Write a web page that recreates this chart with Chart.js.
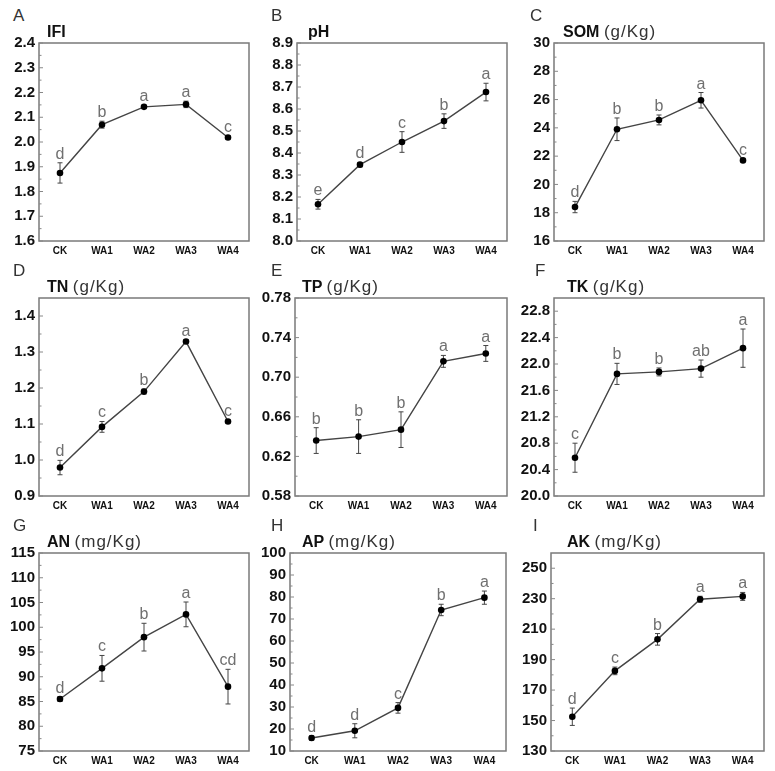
<!DOCTYPE html>
<html>
<head>
<meta charset="utf-8">
<script src="https://cdn.jsdelivr.net/npm/chart.js@4.4.0/dist/chart.umd.min.js"></script>
<style>
  body { margin: 0; background: #fff; }
  #figura { position: relative; width: 775px; height: 771px; overflow: hidden; font-family: "Liberation Sans", Arial, sans-serif; }
  .painel { position: absolute; }
  .letra { position: absolute; font-size: 17px; line-height: 17px; color: #333; }
  .titulo { position: absolute; font-size: 16px; line-height: 17px; font-weight: bold; color: #111; white-space: nowrap; }
  .titulo span { font-weight: normal; font-size: 17px; letter-spacing: 1px; color: #333; }
</style>
</head>
<body>
<div id="figura"></div>
<script>
// categorias do eixo x (iguais nos 9 gráficos)
const categorias = ['CK', 'WA1', 'WA2', 'WA3', 'WA4'];

// A - IFI
const ifiMedia = [1.875, 2.070, 2.142, 2.152, 2.018];
const ifiErro = [0.041, 0.014, 0.006, 0.013, 0.007];
const ifiLetras = ['d', 'b', 'a', 'a', 'c'];
const ifiTicks = [1.6, 1.7, 1.8, 1.9, 2.0, 2.1, 2.2, 2.3, 2.4];

// B - pH
const phMedia = [8.167, 8.347, 8.450, 8.545, 8.677];
const phErro = [0.022, 0.010, 0.047, 0.033, 0.040];
const phLetras = ['e', 'd', 'c', 'b', 'a'];
const phTicks = [8.0, 8.1, 8.2, 8.3, 8.4, 8.5, 8.6, 8.7, 8.8, 8.9];

// C - SOM
const somMedia = [18.4, 23.9, 24.56, 25.95, 21.7];
const somErro = [0.4, 0.8, 0.35, 0.55, 0.1];
const somLetras = ['d', 'b', 'b', 'a', 'c'];
const somTicks = [16, 18, 20, 22, 24, 26, 28, 30];

// D - TN
const tnMedia = [0.979, 1.092, 1.190, 1.329, 1.107];
const tnErro = [0.020, 0.015, 0.007, 0.005, 0.004];
const tnLetras = ['d', 'c', 'b', 'a', 'c'];
const tnTicks = [0.9, 1.0, 1.1, 1.2, 1.3, 1.4];

// E - TP
const tpMedia = [0.636, 0.640, 0.647, 0.716, 0.724];
const tpErro = [0.013, 0.017, 0.018, 0.006, 0.008];
const tpLetras = ['b', 'b', 'b', 'a', 'a'];
const tpTicks = [0.58, 0.62, 0.66, 0.70, 0.74, 0.78];

// F - TK
const tkMedia = [20.58, 21.85, 21.88, 21.93, 22.24];
const tkErro = [0.22, 0.16, 0.06, 0.13, 0.29];
const tkLetras = ['c', 'b', 'b', 'ab', 'a'];
const tkTicks = [20.0, 20.4, 20.8, 21.2, 21.6, 22.0, 22.4, 22.8];

// G - AN
const anMedia = [85.5, 91.7, 98.0, 102.6, 88.0];
const anErro = [0.5, 2.6, 2.8, 2.5, 3.5];
const anLetras = ['d', 'c', 'b', 'a', 'cd'];
const anTicks = [75, 80, 85, 90, 95, 100, 105, 110, 115];

// H - AP
const apMedia = [15.9, 19.2, 29.6, 74.1, 79.7];
const apErro = [1.0, 3.2, 2.4, 2.6, 3.0];
const apLetras = ['d', 'd', 'c', 'b', 'a'];
const apTicks = [10, 20, 30, 40, 50, 60, 70, 80, 90, 100];

// I - AK
const akMedia = [152.5, 182.6, 203.3, 229.6, 231.5];
const akErro = [5.7, 2.5, 3.8, 2.0, 2.6];
const akLetras = ['d', 'c', 'b', 'a', 'a'];
const akTicks = [130, 150, 170, 190, 210, 230, 250];

// configuração de cada painel (caixa = [esquerda, topo, direita, baixo] da área do gráfico)
const paineis = [
  { letra: 'A', nome: 'IFI', unidade: '', media: ifiMedia, erro: ifiErro, letras: ifiLetras, ticks: ifiTicks, min: 1.6, max: 2.4, casas: 1, caixa: [39, 42, 249, 241], tituloX: 47, letraX: 13 },
  { letra: 'B', nome: 'pH', unidade: '', media: phMedia, erro: phErro, letras: phLetras, ticks: phTicks, min: 8.0, max: 8.9, casas: 1, caixa: [297, 42, 507, 241], tituloX: 308, letraX: 271 },
  { letra: 'C', nome: 'SOM', unidade: '(g/Kg)', media: somMedia, erro: somErro, letras: somLetras, ticks: somTicks, min: 16, max: 30, casas: 0, caixa: [554, 42, 764, 241], tituloX: 563, letraX: 530 },
  { letra: 'D', nome: 'TN', unidade: '(g/Kg)', media: tnMedia, erro: tnErro, letras: tnLetras, ticks: tnTicks, min: 0.9, max: 1.45, casas: 1, caixa: [39, 297, 249, 496], tituloX: 47, letraX: 13 },
  { letra: 'E', nome: 'TP', unidade: '(g/Kg)', media: tpMedia, erro: tpErro, letras: tpLetras, ticks: tpTicks, min: 0.58, max: 0.78, casas: 2, caixa: [295, 297, 507, 496], tituloX: 302, letraX: 271 },
  { letra: 'F', nome: 'TK', unidade: '(g/Kg)', media: tkMedia, erro: tkErro, letras: tkLetras, ticks: tkTicks, min: 20.0, max: 23.0, casas: 1, caixa: [554, 297, 764, 496], tituloX: 567, letraX: 535 },
  { letra: 'G', nome: 'AN', unidade: '(mg/Kg)', media: anMedia, erro: anErro, letras: anLetras, ticks: anTicks, min: 75, max: 115, casas: 0, caixa: [39, 552, 249, 751], tituloX: 47, letraX: 13 },
  { letra: 'H', nome: 'AP', unidade: '(mg/Kg)', media: apMedia, erro: apErro, letras: apLetras, ticks: apTicks, min: 10, max: 100, casas: 0, caixa: [290, 552, 506, 751], tituloX: 302, letraX: 271 },
  { letra: 'I', nome: 'AK', unidade: '(mg/Kg)', media: akMedia, erro: akErro, letras: akLetras, ticks: akTicks, min: 130, max: 260, casas: 0, caixa: [551, 552, 764, 751], tituloX: 567, letraX: 533 },
];

const fonte = '"Liberation Sans", Arial, sans-serif';
const larguraEixoY = 38;
const alturaEixoX = 22;
const folgaTopo = 12;
const folgaDireita = 6;

// plugin que desenha moldura, marcas do eixo y, barras de erro e letras de significância
const pluginPainel = {
  id: 'painel',
  beforeDatasetsDraw(chart) {
    const { ctx, scales: { x, y } } = chart;
    const ds = chart.data.datasets[0];
    ctx.save();
    ctx.strokeStyle = '#444';
    ctx.lineWidth = 1;
    ds.data.forEach((v, i) => {
      const px = x.getPixelForValue(i);
      const topo = y.getPixelForValue(v + ds.erro[i]);
      const base = y.getPixelForValue(v - ds.erro[i]);
      ctx.beginPath();
      ctx.moveTo(px, topo); ctx.lineTo(px, base);
      ctx.moveTo(px - 2.5, topo); ctx.lineTo(px + 2.5, topo);
      ctx.moveTo(px - 2.5, base); ctx.lineTo(px + 2.5, base);
      ctx.stroke();
    });
    ctx.restore();
  },
  afterDraw(chart) {
    const { ctx, chartArea: a, scales: { x, y } } = chart;
    const ds = chart.data.datasets[0];
    ctx.save();
    // moldura cinza em volta da área do gráfico
    ctx.strokeStyle = '#7a7a7a';
    ctx.lineWidth = 1.5;
    ctx.strokeRect(a.left, a.top, a.right - a.left, a.bottom - a.top);
    // marcas maiores e menores para dentro
    ctx.strokeStyle = '#888';
    ctx.lineWidth = 1;
    const vals = y.ticks.map(t => t.value);
    ctx.beginPath();
    vals.forEach((v, i) => {
      const py = y.getPixelForValue(v);
      ctx.moveTo(a.left, py); ctx.lineTo(a.left + 4, py);
      if (i < vals.length - 1) {
        const pm = y.getPixelForValue((v + vals[i + 1]) / 2);
        ctx.moveTo(a.left, pm); ctx.lineTo(a.left + 2.5, pm);
      }
    });
    ctx.stroke();
    // letras acima das barras de erro
    ctx.fillStyle = '#707070';
    ctx.font = '16px ' + fonte;
    ctx.textAlign = 'center';
    ctx.textBaseline = 'alphabetic';
    ds.data.forEach((v, i) => {
      ctx.fillText(ds.letras[i], x.getPixelForValue(i), y.getPixelForValue(v + ds.erro[i]) - 4);
    });
    ctx.restore();
  }
};

const figura = document.getElementById('figura');

const criarPainel = (p) => {
  const [esq, topo, dir, baixo] = p.caixa;

  // div e canvas posicionados para que a área do gráfico caia na caixa
  const div = document.createElement('div');
  div.className = 'painel';
  div.style.left = (esq - larguraEixoY) + 'px';
  div.style.top = (topo - folgaTopo) + 'px';
  const canvas = document.createElement('canvas');
  canvas.width = larguraEixoY + (dir - esq) + folgaDireita;
  canvas.height = folgaTopo + (baixo - topo) + alturaEixoX;
  div.appendChild(canvas);
  figura.appendChild(div);

  // letra do painel e título
  const letra = document.createElement('div');
  letra.className = 'letra';
  letra.textContent = p.letra;
  letra.style.left = p.letraX + 'px';
  letra.style.top = (topo - 35) + 'px';
  figura.appendChild(letra);

  const titulo = document.createElement('div');
  titulo.className = 'titulo';
  titulo.innerHTML = p.nome + (p.unidade ? ' <span>' + p.unidade + '</span>' : '');
  titulo.style.left = p.tituloX + 'px';
  titulo.style.top = (topo - 19) + 'px';
  figura.appendChild(titulo);

  new Chart(canvas, {
    type: 'line',
    data: {
      labels: categorias,
      datasets: [{
        data: p.media,
        erro: p.erro,
        letras: p.letras,
        borderColor: '#444',
        borderWidth: 1.4,
        pointRadius: 3.3,
        pointBackgroundColor: '#000',
        pointBorderColor: '#000',
        pointBorderWidth: 0,
        tension: 0,
      }],
    },
    options: {
      responsive: false,
      animation: false,
      layout: { padding: { top: folgaTopo, right: folgaDireita, left: 0, bottom: 0 } },
      plugins: { legend: { display: false }, tooltip: { enabled: false } },
      scales: {
        x: {
          offset: true,
          grid: { display: false, drawTicks: false },
          border: { display: false },
          ticks: { color: '#111', padding: 4, font: { family: fonte, size: 10, weight: 'bold' } },
          afterFit: (eixo) => { eixo.height = alturaEixoX; },
        },
        y: {
          min: p.min,
          max: p.max,
          grid: { display: false, drawTicks: false },
          border: { display: false },
          ticks: {
            autoSkip: false,
            color: '#111',
            padding: 4,
            font: { family: fonte, size: 15, weight: 'bold' },
            callback: (v) => Number(v).toFixed(p.casas),
          },
          afterBuildTicks: (eixo) => { eixo.ticks = p.ticks.map(v => ({ value: v })); },
          afterFit: (eixo) => { eixo.width = larguraEixoY; },
        },
      },
    },
    plugins: [pluginPainel],
  });
};

paineis.forEach(criarPainel);
</script>
</body>
</html>
